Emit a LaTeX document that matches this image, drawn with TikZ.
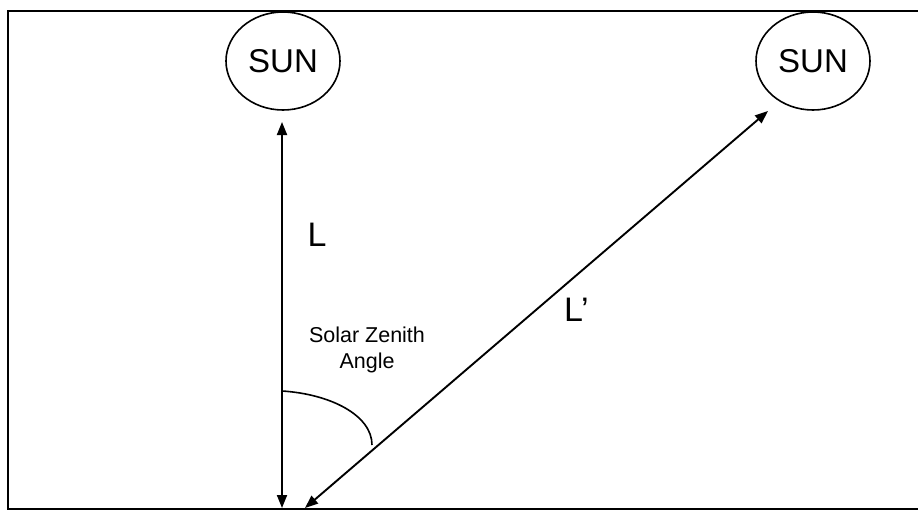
\documentclass[tikz,border=0pt]{standalone}
\usepackage{fontspec}
\setmainfont{Liberation Sans}
\usetikzlibrary{arrows.meta,shapes.geometric}
\begin{document}
\begin{tikzpicture}[x=1pt,y=-1pt,
  sunnode/.style={draw,line width=1.6pt,ellipse,minimum width=114pt,minimum height=98pt,inner sep=0pt,font=\fontsize{33}{38}\selectfont},
  ray/.style={line width=1.9pt,{Triangle[length=13pt,width=10pt]}-{Triangle[length=13pt,width=10pt]}},
  biglabel/.style={font=\fontsize{34}{40}\selectfont,inner sep=0pt},
  smalllabel/.style={font=\fontsize{21.5}{26}\selectfont,align=center,inner sep=0pt}]
\useasboundingbox (0,0) rectangle (918,511);
\draw[line width=2.4pt] (918,11) -- (8,11) -- (8,509) -- (918,509);
\node[sunnode] (sunL) at (283,61) {SUN};
\node[sunnode] (sunR) at (813,61) {SUN};
\coordinate (baseV) at (282,508);
\coordinate (topV) at (282,122);
\coordinate (baseD) at (305,508);
\coordinate (topD) at (768,111);
\draw[ray] (baseV) -- (topV);
\draw[ray] (baseD) -- (topD);
\coordinate (arcA) at (282,391);
\coordinate (arcB) at (372,445);
\draw[line width=1.6pt] (arcA) .. controls (330,394) and (372,415) .. (arcB);
\node[biglabel] (labL) at (317,235) {L};
\node[biglabel,anchor=west] (labLp) at (564,310) {L’};
\node[smalllabel] (labSZA) at (367,350) {Solar Zenith\\Angle};
\end{tikzpicture}
\end{document}
